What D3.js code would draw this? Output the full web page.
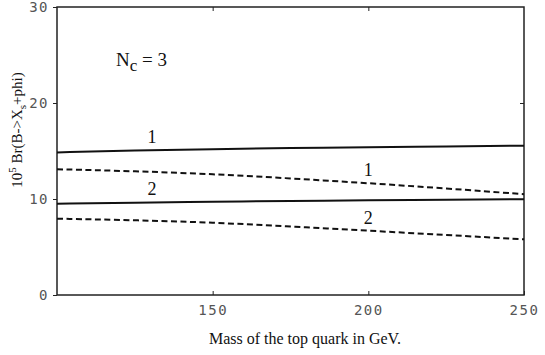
<!DOCTYPE html>
<html><head><meta charset="utf-8">
<script src="https://cdn.jsdelivr.net/npm/d3@7"></script>
<style>body{margin:0;background:#fff}</style>
</head><body>
<svg id="c" width="545" height="355"></svg>
<script>
const xTicks = [150, 200, 250];
const yTicks = [0, 10, 20, 30];
const mt = [100, 125, 150, 175, 200, 225, 250];
const solid1 = [14.85, 15.05, 15.2, 15.3, 15.4, 15.48, 15.55];
const dashed1 = [13.1, 12.9, 12.6, 12.15, 11.65, 11.1, 10.5];
const solid2 = [9.5, 9.62, 9.72, 9.8, 9.87, 9.93, 9.98];
const dashed2 = [7.95, 7.8, 7.55, 7.15, 6.7, 6.25, 5.8];
const labels = [
  {t: "1", x: 130.5, y: 15.1},
  {t: "1", x: 200, y: 11.65},
  {t: "2", x: 130.5, y: 9.65},
  {t: "2", x: 200, y: 6.7}
];

const svg = d3.select("#c");
const L = 57, R = 524, T = 7, B = 295;
const x = d3.scaleLinear().domain([100, 250]).range([L, R]);
const y = d3.scaleLinear().domain([0, 30]).range([B, T]);
const serif = "'Liberation Serif', 'Times New Roman', serif";
const tickFont = "'DejaVu Sans Mono', monospace";

svg.append("rect").attr("x", L).attr("y", T).attr("width", R - L).attr("height", B - T)
  .attr("fill", "none").attr("stroke", "#222").attr("stroke-width", 1.5);

svg.append("g").attr("transform", `translate(0,${B})`)
  .call(d3.axisBottom(x).tickValues(xTicks).tickSizeInner(-4).tickSizeOuter(0).tickPadding(10));
svg.append("g").attr("transform", `translate(0,${T})`)
  .call(d3.axisTop(x).tickValues([150, 200]).tickSizeInner(-4).tickSizeOuter(0).tickFormat(""));
svg.append("g").attr("transform", `translate(${L},0)`)
  .call(d3.axisLeft(y).tickValues(yTicks).tickSizeInner(4).tickSizeOuter(0).tickPadding(4));
svg.append("g").attr("transform", `translate(${R},0)`)
  .call(d3.axisRight(y).tickValues([10, 20]).tickSizeInner(-4).tickSizeOuter(0).tickFormat(""));

svg.selectAll(".domain").remove();
svg.selectAll(".tick line").attr("stroke", "#222").attr("stroke-width", 1);
svg.selectAll(".tick text").attr("font-family", tickFont).attr("font-size", 14)
  .attr("fill", "#555").style("letter-spacing", "1.5px");

const line = d3.line().x((d, i) => x(mt[i])).y(d => y(d)).curve(d3.curveBasis);
const series = [
  {v: solid1, dash: null},
  {v: dashed1, dash: "6,3.5"},
  {v: solid2, dash: null},
  {v: dashed2, dash: "6,3.5"}
];
series.forEach(s => {
  svg.append("path").attr("d", line(s.v)).attr("fill", "none").attr("stroke", "#111")
    .attr("stroke-width", 2).attr("stroke-dasharray", s.dash);
});

labels.forEach(l => {
  svg.append("text").attr("x", x(l.x)).attr("y", y(l.y) - 7).attr("text-anchor", "middle")
    .attr("font-family", serif).attr("font-size", 18).attr("fill", "#111").text(l.t);
});

const nc = svg.append("text").attr("x", 116).attr("y", 66)
  .attr("font-family", serif).attr("font-size", 19).attr("fill", "#111");
nc.append("tspan").text("N");
nc.append("tspan").attr("dy", 5).attr("font-size", 17).text("c");
nc.append("tspan").attr("dy", -5).text(" = 3");

svg.append("text").attr("x", 305).attr("y", 344).attr("text-anchor", "middle")
  .attr("font-family", serif).attr("font-size", 16).attr("fill", "#111")
  .text("Mass of the top quark in GeV.");

const yl = svg.append("text").attr("transform", "translate(22,130) rotate(-90)").attr("text-anchor", "middle")
  .attr("font-family", serif).attr("font-size", 15).attr("fill", "#111");
yl.append("tspan").text("10");
yl.append("tspan").attr("dy", -6).attr("font-size", 11).text("5");
yl.append("tspan").attr("dy", 6).text(" Br(B->X");
yl.append("tspan").attr("dy", 4).attr("font-size", 11).text("s");
yl.append("tspan").attr("dy", -4).text("+phi)");
</script>
</body></html>
